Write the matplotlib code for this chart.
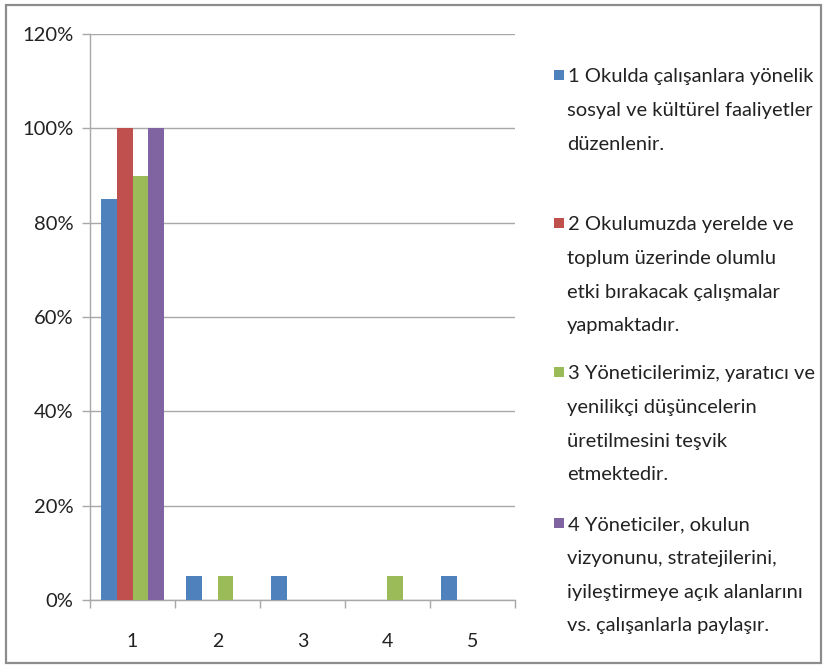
import matplotlib
matplotlib.use("Agg")
import matplotlib.pyplot as plt
from matplotlib.patches import Rectangle
from matplotlib.ticker import FuncFormatter, FixedLocator
import numpy as np

# ---- data ----
categories = ["1", "2", "3", "4", "5"]
series_names = [
    "1 Okulda çalışanlara yönelik\nsosyal ve kültürel faaliyetler\ndüzenlenir.",
    "2 Okulumuzda yerelde ve\ntoplum üzerinde olumlu\netki bırakacak çalışmalar\nyapmaktadır.",
    "3 Yöneticilerimiz, yaratıcı ve\nyenilikçi düşüncelerin\nüretilmesini teşvik\netmektedir.",
    "4 Yöneticiler, okulun\nvizyonunu, stratejilerini,\niyileştirmeye açık alanlarını\nvs. çalışanlarla paylaşır.",
]
s1 = [0.85, 0.05, 0.05, 0.00, 0.05]
s2 = [1.00, 0.00, 0.00, 0.00, 0.00]
s3 = [0.90, 0.05, 0.00, 0.05, 0.00]
s4 = [1.00, 0.00, 0.00, 0.00, 0.00]
series_values = [s1, s2, s3, s4]
colors = ["#4F81BD", "#C0504D", "#9BBB59", "#8064A2"]
yticks = [0, 0.2, 0.4, 0.6, 0.8, 1.0, 1.2]

plt.rcParams['font.family'] = ['Lato', 'DejaVu Sans']

W, H = 825, 669
fig = plt.figure(figsize=(W / 100, H / 100), dpi=100)
fig.patch.set_facecolor("white")

# outer frame
fig.patches.append(Rectangle((6 / W, 1 - 663 / H), (821 - 6) / W, (663 - 5) / H,
                             transform=fig.transFigure, fill=False,
                             edgecolor="#8C8C8C", linewidth=1.6))

ax = fig.add_axes([90 / W, 1 - 600 / H, (515 - 90) / W, (600 - 34) / H])

x = np.arange(1, len(categories) + 1)
bw = 0.1825
n = len(series_values)
for i, (vals, c) in enumerate(zip(series_values, colors)):
    ax.bar(x + (i - (n - 1) / 2) * bw, vals, width=bw, color=c, linewidth=0, zorder=3)

ax.set_xlim(0.5, len(categories) + 0.5)
ax.set_ylim(0, 1.2)
ax.set_yticks(yticks)
ax.yaxis.set_major_formatter(FuncFormatter(lambda v, p: f"{v * 100:.0f}%"))
ax.yaxis.grid(True, color="#A8A8A8", linewidth=1.0, zorder=0)
ax.set_axisbelow(True)

ax.set_xticks(x)
ax.set_xticklabels(categories)
ax.xaxis.set_minor_locator(FixedLocator(np.arange(0.5, len(categories) + 1, 1.0)))
ax.tick_params(axis="x", which="major", length=0, pad=24, labelsize=14, labelcolor="#222222")
ax.tick_params(axis="x", which="minor", length=6, color="#A8A8A8", width=1.0, direction="out")
ax.tick_params(axis="y", which="major", length=6, color="#A8A8A8", width=1.0, pad=6,
               labelsize=14.5, labelcolor="#222222")

for side in ["top", "right"]:
    ax.spines[side].set_visible(False)
for side in ["left", "bottom"]:
    ax.spines[side].set_color("#A8A8A8")
    ax.spines[side].set_linewidth(1.0)

# legend drawn manually
entry_top = [75, 223, 372, 523]
line_step = 33.8
sq = 10
for name, c, y0 in zip(series_names, colors, entry_top):
    fig.patches.append(Rectangle((554 / W, 1 - (y0 + sq / 2) / H), sq / W, sq / H,
                                 transform=fig.transFigure, facecolor=c, edgecolor="none"))
    for k, line in enumerate(name.split("\n")):
        xt = 568 if k == 0 else 567
        fig.text(xt / W, 1 - (y0 + k * line_step) / H, line, ha="left", va="center_baseline",
                 fontsize=14.5, color="#222222")

fig.savefig("out.png", dpi=100, facecolor="white")
